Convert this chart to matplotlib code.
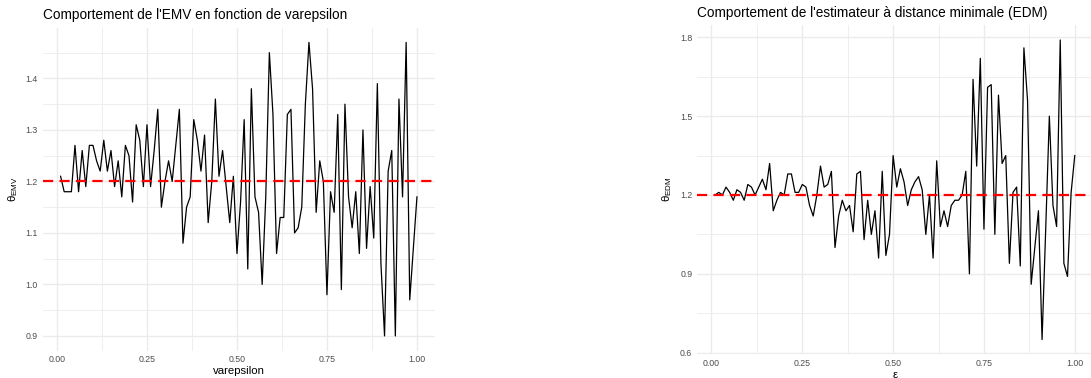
import numpy as np
import matplotlib
matplotlib.use("Agg")
import matplotlib.pyplot as plt
from matplotlib.ticker import MultipleLocator

plt.rcParams['font.family'] = ['Liberation Sans', 'DejaVu Sans']
plt.rcParams['mathtext.fontset'] = 'dejavusans'

# epsilon grid 0.01 .. 1.00
eps = np.round(np.arange(1, 101) / 100, 2)

theta_emv = [
    1.21, 1.18, 1.18, 1.18, 1.27, 1.18, 1.26, 1.19, 1.27, 1.27,
    1.24, 1.22, 1.28, 1.22, 1.26, 1.19, 1.24, 1.17, 1.27, 1.25,
    1.16, 1.31, 1.28, 1.19, 1.31, 1.19, 1.26, 1.34, 1.15, 1.20,
    1.24, 1.20, 1.27, 1.34, 1.08, 1.15, 1.17, 1.32, 1.28, 1.22,
    1.29, 1.12, 1.20, 1.36, 1.21, 1.26, 1.19, 1.12, 1.21, 1.06,
    1.16, 1.32, 1.03, 1.38, 1.17, 1.14, 1.00, 1.17, 1.45, 1.33,
    1.06, 1.13, 1.13, 1.33, 1.34, 1.10, 1.11, 1.15, 1.35, 1.47,
    1.38, 1.14, 1.24, 1.20, 0.98, 1.18, 1.14, 1.33, 0.99, 1.35,
    1.17, 1.11, 1.18, 1.06, 1.30, 1.07, 1.19, 1.09, 1.39, 1.04,
    0.90, 1.22, 1.26, 0.90, 1.36, 1.17, 1.47, 0.97, 1.07, 1.17,
]

theta_edm = [
    1.20, 1.21, 1.20, 1.23, 1.21, 1.18, 1.22, 1.21, 1.18, 1.24,
    1.23, 1.20, 1.23, 1.26, 1.22, 1.32, 1.14, 1.18, 1.21, 1.20,
    1.28, 1.28, 1.21, 1.21, 1.24, 1.23, 1.16, 1.12, 1.20, 1.31,
    1.23, 1.24, 1.29, 1.00, 1.12, 1.18, 1.14, 1.16, 1.06, 1.28,
    1.29, 1.03, 1.18, 1.05, 1.14, 0.96, 1.29, 0.97, 1.05, 1.35,
    1.23, 1.30, 1.25, 1.16, 1.22, 1.25, 1.27, 1.22, 1.05, 1.20,
    0.96, 1.33, 1.08, 1.14, 1.08, 1.16, 1.18, 1.18, 1.20, 1.29,
    0.90, 1.64, 1.31, 1.72, 1.07, 1.61, 1.62, 1.05, 1.58, 1.32,
    1.35, 0.94, 1.21, 1.23, 0.93, 1.76, 1.56, 0.86, 1.00, 1.14,
    0.65, 1.07, 1.50, 1.16, 1.08, 1.79, 0.94, 0.89, 1.21, 1.35,
]

theta_true = 1.2

titles = ["Comportement de l'EMV en fonction de varepsilon",
          "Comportement de l'estimateur à distance minimale (EDM)"]
xlabels = ["varepsilon", "ε"]
ylabels = [r"$\mathregular{θ_{EMV}}$", r"$\mathregular{θ_{EDM}}$"]
y_major = [0.1, 0.3]

fig = plt.figure(figsize=(10.91, 3.78), dpi=100)
ax1 = fig.add_axes([0.0392, 0.0725, 0.3593, 0.8542])
ax2 = fig.add_axes([0.6390, 0.0622, 0.3626, 0.8717])

grid_col = '#EBEBEB'
txt_col = '#4D4D4D'

for ax, vals, title, xl, yl, step in zip([ax1, ax2], [theta_emv, theta_edm],
                                         titles, xlabels, ylabels, y_major):
    vals = np.array(vals)
    # ggplot-like 5% expansion
    xr = eps.max() - eps.min()
    yr = vals.max() - vals.min()
    ax.set_xlim(eps.min() - 0.05 * xr, eps.max() + 0.05 * xr)
    ax.set_ylim(vals.min() - 0.05 * yr, vals.max() + 0.05 * yr)

    ax.xaxis.set_major_locator(MultipleLocator(0.25))
    ax.xaxis.set_minor_locator(MultipleLocator(0.125))
    ax.yaxis.set_major_locator(MultipleLocator(step))
    ax.yaxis.set_minor_locator(MultipleLocator(step / 2))
    ax.xaxis.set_major_formatter(matplotlib.ticker.FormatStrFormatter('%.2f'))
    ax.yaxis.set_major_formatter(matplotlib.ticker.FormatStrFormatter('%.1f'))

    ax.grid(which='major', color=grid_col, lw=1.0)
    ax.grid(which='minor', color=grid_col, lw=0.6)
    ax.set_axisbelow(True)
    for s in ax.spines.values():
        s.set_visible(False)
    ax.tick_params(which='both', length=0, labelsize=6.3, colors=txt_col, pad=3.5)

    ax.plot(eps, vals, color='black', lw=0.9, zorder=3)
    ax.axhline(theta_true, color='red', lw=1.6, dashes=(4.6, 2.8), zorder=4)

    ax.set_title(title, loc='left', fontsize=9.8, pad=6, color='black')
    ax.set_xlabel(xl, fontsize=8.2, labelpad=1, color='black')
    ax.set_ylabel(yl, fontsize=8.2, labelpad=4, color='black')

fig.savefig('out.png', dpi=100)
